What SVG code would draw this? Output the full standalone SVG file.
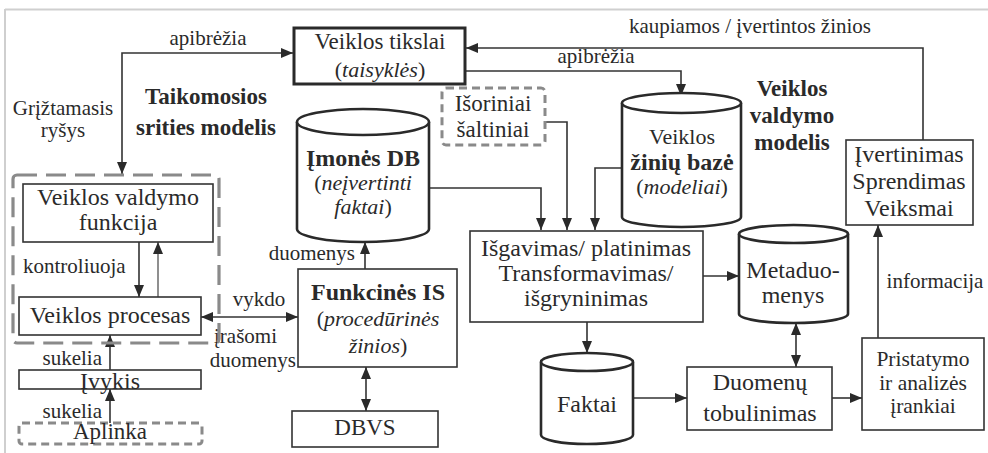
<svg xmlns="http://www.w3.org/2000/svg" width="988" height="453" viewBox="0 0 988 453">
  <style>
    text { font-family: "Liberation Serif", "Times New Roman", serif; fill: #2a2a2a; text-anchor: middle; }
    .t { font-size: 24px; }
    .l { font-size: 21px; }
    .b { font-weight: bold; }
    .i { font-style: italic; }
    .box { fill: #fff; stroke: #333; stroke-width: 1.6; }
    .boxb { fill: #fff; stroke: #2a2a2a; stroke-width: 3; }
    .cyl { fill: #fff; stroke: #2a2a2a; stroke-width: 2.6; }
    .dash { fill: none; stroke: #8a8a8a; stroke-width: 3; stroke-dasharray: 8 5; }
    .dashl { fill: none; stroke: #8a8a8a; stroke-width: 3.2; stroke-dasharray: 20 9; }
    .c { fill: none; stroke: #333; stroke-width: 1.6; }
    .cthin { fill: none; stroke: #333; stroke-width: 1.1; }
    .frame { stroke: #cfcfcf; stroke-width: 2; }
  </style>
  <defs>
    <marker id="ah" markerUnits="userSpaceOnUse" markerWidth="13" markerHeight="11" refX="12" refY="5" orient="auto-start-reverse">
      <path d="M0,0 L12,5 L0,10 z" fill="#2a2a2a"/>
    </marker>
  </defs>

  <rect width="988" height="453" fill="#fff"/>
  <line class="frame" x1="5" y1="9.5" x2="988" y2="9.5"/>
  <line class="frame" x1="5" y1="9" x2="5" y2="453"/>

  <!-- region titles -->
  <g id="titles">
    <text class="l" x="63" y="115">Grįžtamasis</text>
    <text class="l" x="63" y="137">ryšys</text>
    <text class="b" style="font-size:23px" x="206" y="104">Taikomosios</text>
    <text class="b" style="font-size:23px" x="206" y="135">srities modelis</text>
    <text class="b" style="font-size:23px" x="792" y="96">Veiklos</text>
    <text class="b" style="font-size:23px" x="792" y="123">valdymo</text>
    <text class="b" style="font-size:23px" x="792" y="150">modelis</text>
  </g>

  <!-- connectors -->
  <g id="connectors">
    <path class="c" d="M122,174 V53 H293" marker-start="url(#ah)" marker-end="url(#ah)"/>
    <path class="c" d="M923,140 V48 H466" marker-end="url(#ah)"/>
    <path class="c" d="M466,71 H681 V96" marker-end="url(#ah)"/>
    <path class="c" d="M429,188 H541 V230" marker-end="url(#ah)"/>
    <path class="c" d="M545,122 H567 V230" marker-end="url(#ah)"/>
    <path class="c" d="M622,168 H595 V230" marker-end="url(#ah)"/>
    <path class="c" d="M703,276 H739" marker-end="url(#ah)"/>
    <path class="c" d="M587,322 V353" marker-end="url(#ah)"/>
    <path class="c" d="M633,398 H687" marker-end="url(#ah)"/>
    <path class="c" d="M796,323 V367" marker-start="url(#ah)" marker-end="url(#ah)"/>
    <path class="c" d="M832,398 H862" marker-end="url(#ah)"/>
    <path class="c" d="M878,338 V225" marker-end="url(#ah)"/>
    <path class="c" d="M365,269 V242" marker-end="url(#ah)"/>
    <path class="c" d="M366,367 V411" marker-start="url(#ah)" marker-end="url(#ah)"/>
    <path class="c" d="M201,317 H298" marker-start="url(#ah)" marker-end="url(#ah)"/>
    <path class="c" d="M139,242 V297" marker-end="url(#ah)"/>
    <path class="cthin" d="M158,297 V242" marker-end="url(#ah)"/>
    <path class="c" d="M110,370 V335" marker-end="url(#ah)"/>
    <path class="c" d="M110,423 V389" marker-end="url(#ah)"/>

    <text class="l" x="208" y="45">apibrėžia</text>
    <text class="l" x="750" y="33">kaupiamos / įvertintos žinios</text>
    <text class="l" x="596" y="63">apibrėžia</text>
    <text class="l" x="935" y="288">informacija</text>
    <text class="l" x="355" y="260" style="text-anchor:end">duomenys</text>
    <text class="l" x="259" y="306">vykdo</text>
    <text class="l" x="277" y="343" style="text-anchor:end">įrašomi</text>
    <text class="l" x="296" y="367" style="text-anchor:end">duomenys</text>
    <text class="l" x="23" y="273" style="text-anchor:start">kontroliuoja</text>
    <text class="l" x="102" y="365" style="text-anchor:end">sukelia</text>
    <text class="l" x="102" y="418" style="text-anchor:end">sukelia</text>
  </g>

  <!-- application domain model group -->
  <g id="domain-group">
    <rect class="dashl" x="13" y="175" width="206" height="168" rx="4"/>
  </g>

  <g id="veiklos-tikslai">
    <rect class="boxb" x="294" y="28" width="171" height="56"/>
    <text class="t" style="font-size:23px" x="380" y="49">Veiklos tikslai</text>
    <text class="t" style="font-size:22px" x="380" y="77">(<tspan class="i">taisyklės</tspan>)</text>
  </g>

  <g id="isoriniai-saltiniai">
    <rect class="dash" x="442" y="88" width="103" height="57" rx="4"/>
    <text class="t" style="font-size:23px" x="493" y="111">Išoriniai</text>
    <text class="t" style="font-size:23px" x="493" y="137">šaltiniai</text>
  </g>

  <g id="imones-db">
    <path class="cyl" d="M297,122 V229 A66,13 0 0 0 429,229 V122"/>
    <ellipse class="cyl" cx="363" cy="122" rx="66" ry="13"/>
    <text class="t b" x="363" y="166">Įmonės DB</text>
    <text class="t" style="font-size:22px" x="363" y="190">(<tspan class="i">neįvertinti</tspan></text>
    <text class="t" style="font-size:22px" x="363" y="214"><tspan class="i">faktai</tspan>)</text>
  </g>

  <g id="veiklos-ziniu-baze">
    <path class="cyl" d="M622,103 V217 A59.5,10 0 0 0 741,217 V103"/>
    <ellipse class="cyl" cx="681.5" cy="103" rx="59.5" ry="10"/>
    <text class="t" style="font-size:22px" x="682" y="144">Veiklos</text>
    <text class="t b" x="682" y="170">žinių bazė</text>
    <text class="t" style="font-size:22px" x="682" y="194">(<tspan class="i">modeliai</tspan>)</text>
  </g>

  <g id="ivertinimas">
    <rect class="box" x="846" y="140" width="127" height="85"/>
    <text class="t" x="909" y="162">Įvertinimas</text>
    <text class="t" x="909" y="189">Sprendimas</text>
    <text class="t" x="909" y="216">Veiksmai</text>
  </g>

  <g id="veiklos-valdymo-funkcija">
    <rect class="box" x="23" y="184" width="190" height="58"/>
    <text class="t" x="118" y="205">Veiklos valdymo</text>
    <text class="t" x="118" y="230">funkcija</text>
  </g>

  <g id="veiklos-procesas">
    <rect class="box" x="19" y="297" width="182" height="38"/>
    <text class="t" x="110" y="323">Veiklos procesas</text>
  </g>

  <g id="ivykis">
    <rect class="box" x="19" y="370" width="182" height="19"/>
    <text class="t" x="110" y="389">Įvykis</text>
  </g>

  <g id="aplinka">
    <rect class="dash" x="19" y="423" width="183" height="21" rx="3"/>
    <text class="t" style="font-size:23px" x="110" y="439">Aplinka</text>
  </g>

  <g id="funkcines-is">
    <rect class="box" x="298" y="269" width="159" height="98"/>
    <text class="t b" x="378" y="300">Funkcinės IS</text>
    <text class="t" style="font-size:22px" x="378" y="326">(<tspan class="i">procedūrinės</tspan></text>
    <text class="t" style="font-size:22px" x="378" y="353"><tspan class="i">žinios</tspan>)</text>
  </g>

  <g id="dbvs">
    <rect class="box" x="292" y="411" width="146" height="36"/>
    <text class="t" style="font-size:23px" x="365" y="435">DBVS</text>
  </g>

  <g id="isgavimas">
    <rect class="box" x="470" y="231" width="233" height="91"/>
    <text class="t" x="586" y="256">Išgavimas/ platinimas</text>
    <text class="t" x="586" y="281">Transformavimas/</text>
    <text class="t" x="586" y="306">išgryninimas</text>
  </g>

  <g id="metaduomenys">
    <path class="cyl" d="M739,234 V314 A54.5,9 0 0 0 848,314 V234"/>
    <ellipse class="cyl" cx="793.5" cy="234" rx="54.5" ry="9"/>
    <text class="t" x="793" y="278">Metaduo-</text>
    <text class="t" x="793" y="303">menys</text>
  </g>

  <g id="faktai">
    <path class="cyl" d="M541,362 V435 A46,9 0 0 0 633,435 V362"/>
    <ellipse class="cyl" cx="587" cy="362" rx="46" ry="9"/>
    <text class="t" x="587" y="412">Faktai</text>
  </g>

  <g id="duomenu-tobulinimas">
    <rect class="box" x="687" y="367" width="145" height="63"/>
    <text class="t" x="760" y="390">Duomenų</text>
    <text class="t" x="760" y="421">tobulinimas</text>
  </g>

  <g id="pristatymo-irankiai">
    <rect class="box" x="862" y="338" width="122" height="92"/>
    <text class="t" style="font-size:21.5px" x="923" y="366">Pristatymo</text>
    <text class="t" style="font-size:21.5px" x="923" y="390">ir analizės</text>
    <text class="t" style="font-size:21.5px" x="923" y="413">įrankiai</text>
  </g>
</svg>
